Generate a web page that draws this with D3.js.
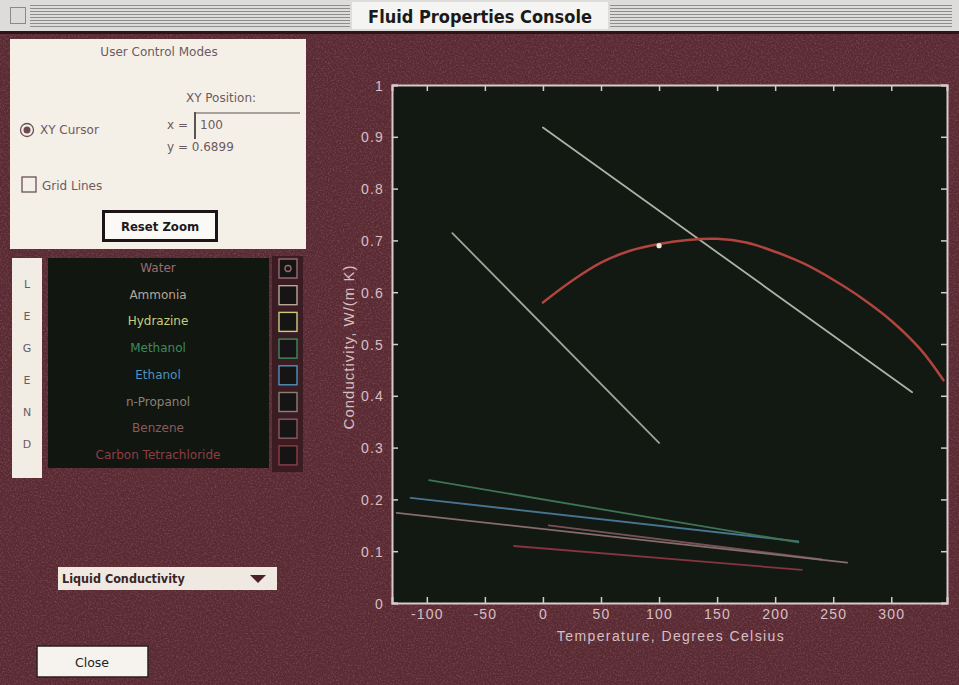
<!DOCTYPE html>
<html>
<head>
<meta charset="utf-8">
<script src="https://cdn.jsdelivr.net/npm/d3@7"></script>
<style>
  html, body { margin: 0; padding: 0; background: #5b2c34; }
  svg { display: block; }
</style>
</head>
<body>
<svg id="console" width="959" height="685"></svg>
<script>
// ---- fluids and their liquid thermal conductivity, W/(m K) vs temperature, °C ----
const fluids = ["Water", "Ammonia", "Hydrazine", "Methanol", "Ethanol", "n-Propanol", "Benzene", "Carbon Tetrachloride"];

const waterT = [0, 25, 50, 75, 100, 125, 150, 175, 200, 225, 250, 275, 300, 325, 345];
const waterK = [0.580, 0.622, 0.657, 0.680, 0.693, 0.701, 0.703, 0.696, 0.678, 0.655, 0.624, 0.588, 0.545, 0.490, 0.430];

const ammoniaT = [-78, 100];
const ammoniaK = [0.714, 0.309];

const hydrazineT = [0, 318];
const hydrazineK = [0.918, 0.407];

const methanolT = [-98, 220];
const methanolK = [0.237, 0.117];

const ethanolT = [-114, 220];
const ethanolK = [0.203, 0.119];

const propanolT = [-126, 262];
const propanolK = [0.174, 0.078];

const benzeneT = [5, 240];
const benzeneK = [0.150, 0.084];

const cclT = [-25, 223];
const cclK = [0.110, 0.064];

const seriesT = [waterT, ammoniaT, hydrazineT, methanolT, ethanolT, propanolT, benzeneT, cclT];
const seriesK = [waterK, ammoniaK, hydrazineK, methanolK, ethanolK, propanolK, benzeneK, cclK];

// cursor readout
const cursorT = 100;
const cursorK = 0.6899;

// tick labels
const xTicks = [-100, -50, 0, 50, 100, 150, 200, 250, 300];
const yTicks = [0, 0.1, 0.2, 0.3, 0.4, 0.5, 0.6, 0.7, 0.8, 0.9, 1];
const yTickLabels = ["0", "0.1", "0.2", "0.3", "0.4", "0.5", "0.6", "0.7", "0.8", "0.9", "1"];

// styling
const lineColors = ["#b0443e", "#9ea297", "#aab3a4", "#3c7454", "#477490", "#866c6c", "#765257", "#853440"];
const legendColors = ["#9a6c72", "#b5a796", "#c6cf7e", "#3e8a5c", "#4f92bb", "#8a8172", "#8c5a5c", "#8f3e46"];

const svg = d3.select("#console");
const W = 959, H = 685;
const defs = svg.append("defs");

// soft mottling for the window background
const grain = defs.append("filter").attr("id", "grain").attr("x", 0).attr("y", 0).attr("width", "100%").attr("height", "100%");
grain.append("feTurbulence").attr("type", "fractalNoise").attr("baseFrequency", 0.6).attr("numOctaves", 2).attr("seed", 7);
grain.append("feColorMatrix").attr("type", "matrix")
  .attr("values", "0 0 0 0 0.78  0 0 0 0 0.55  0 0 0 0 0.6  0.45 0 0 0 -0.2");

svg.append("rect").attr("width", W).attr("height", H).attr("fill", "#5a2a33");
svg.append("rect").attr("width", W).attr("height", H).attr("filter", "url(#grain)");

// ---- title bar ----
const title = svg.append("g").attr("shape-rendering", "crispEdges");
title.append("rect").attr("x", 0).attr("y", 0).attr("width", W).attr("height", 31).attr("fill", "#dedcda");
d3.range(5, 27, 3).forEach(yy => {
  title.append("rect").attr("x", 30).attr("y", yy).attr("width", 320).attr("height", 1).attr("fill", "#8e8c8c");
  title.append("rect").attr("x", 610).attr("y", yy).attr("width", 342).attr("height", 1).attr("fill", "#8e8c8c");
});
title.append("rect").attr("x", 10).attr("y", 7).attr("width", 15).attr("height", 16).attr("fill", "#dcdad8").attr("stroke", "#8a8888");
title.append("rect").attr("x", 352).attr("y", 2).attr("width", 256).attr("height", 27).attr("fill", "#f4f4f2");
svg.append("text").attr("x", 480).attr("y", 23).attr("text-anchor", "middle")
  .attr("font-family", "'DejaVu Sans Condensed', 'DejaVu Sans', sans-serif").attr("font-weight", "bold")
  .attr("font-size", 18).attr("fill", "#1a1a1a").text("Fluid Properties Console");
svg.append("rect").attr("x", 0).attr("y", 31).attr("width", W).attr("height", 3).attr("fill", "#2e1418");

const uiFont = "'DejaVu Sans', sans-serif";
const panelInk = "#6e5a5d";

// ---- control panel ----
const panel = svg.append("g");
panel.append("rect").attr("x", 10).attr("y", 39).attr("width", 296).attr("height", 210).attr("fill", "#f4f0e8");
panel.append("text").attr("x", 159).attr("y", 56).attr("text-anchor", "middle").attr("font-family", uiFont)
  .attr("font-size", 12).attr("fill", panelInk).text("User Control Modes");
panel.append("text").attr("x", 221).attr("y", 102).attr("text-anchor", "middle").attr("font-family", uiFont)
  .attr("font-size", 12).attr("fill", panelInk).text("XY Position:");
panel.append("circle").attr("cx", 27).attr("cy", 130).attr("r", 6.5).attr("fill", "#f4f0e8").attr("stroke", "#6a5055").attr("stroke-width", 1.3);
panel.append("circle").attr("cx", 27).attr("cy", 130).attr("r", 3.5).attr("fill", "#6a4a50");
panel.append("text").attr("x", 40).attr("y", 134).attr("font-family", uiFont).attr("font-size", 12).attr("fill", panelInk).text("XY Cursor");
panel.append("text").attr("x", 167).attr("y", 129).attr("font-family", uiFont).attr("font-size", 12).attr("fill", panelInk).text("x =");
panel.append("line").attr("x1", 195).attr("x2", 195).attr("y1", 112).attr("y2", 139).attr("stroke", "#2a2022").attr("stroke-width", 1.5);
panel.append("line").attr("x1", 195).attr("x2", 300).attr("y1", 113).attr("y2", 113).attr("stroke", "#5a5052").attr("stroke-width", 1.2);
panel.append("text").attr("x", 200).attr("y", 129).attr("font-family", uiFont).attr("font-size", 12).attr("fill", panelInk).text(String(cursorT));
panel.append("text").attr("x", 167).attr("y", 151).attr("font-family", uiFont).attr("font-size", 12).attr("fill", panelInk).text("y = " + cursorK);
panel.append("rect").attr("x", 22).attr("y", 177).attr("width", 14).attr("height", 15).attr("fill", "#f4f0e8").attr("stroke", "#6a5055").attr("stroke-width", 1.3);
panel.append("text").attr("x", 42).attr("y", 190).attr("font-family", uiFont).attr("font-size", 12).attr("fill", panelInk).text("Grid Lines");
panel.append("rect").attr("x", 102).attr("y", 210).attr("width", 116).attr("height", 32).attr("fill", "#1c1416");
panel.append("rect").attr("x", 105).attr("y", 213).attr("width", 110).attr("height", 26).attr("fill", "#fbf9f6");
panel.append("text").attr("x", 160).attr("y", 231).attr("text-anchor", "middle").attr("font-family", "'DejaVu Sans Condensed', 'DejaVu Sans', sans-serif")
  .attr("font-weight", "bold").attr("font-size", 13).attr("fill", "#1e1a1a").text("Reset Zoom");

// ---- legend ----
const legend = svg.append("g");
legend.append("rect").attr("x", 12).attr("y", 258).attr("width", 30).attr("height", 220).attr("fill", "#f2ede4");
"LEGEND".split("").forEach((ch, i) => {
  legend.append("text").attr("x", 27).attr("y", 288 + i * 32).attr("text-anchor", "middle").attr("font-family", uiFont)
    .attr("font-size", 11).attr("fill", panelInk).text(ch);
});
legend.append("rect").attr("x", 48).attr("y", 258).attr("width", 221).attr("height", 210).attr("fill", "#111611");
legend.append("rect").attr("x", 272).attr("y", 256).attr("width", 31).attr("height", 216).attr("fill", "#3a1c22");
const rowY = i => 268 + i * 26.7;
fluids.forEach((name, i) => {
  legend.append("text").attr("x", 158).attr("y", rowY(i) + 4).attr("text-anchor", "middle").attr("font-family", uiFont)
    .attr("font-size", 12).attr("fill", legendColors[i]).text(name);
  legend.append("rect").attr("x", 279).attr("y", rowY(i) - 9).attr("width", 18).attr("height", 19)
    .attr("fill", "#161414").attr("stroke", legendColors[i]).attr("stroke-width", 1.4);
});
legend.append("circle").attr("cx", 288).attr("cy", rowY(0) + 0.5).attr("r", 3).attr("fill", "none").attr("stroke", legendColors[0]).attr("stroke-width", 1.3);

// ---- property selector and close button ----
svg.append("rect").attr("x", 58).attr("y", 567).attr("width", 219).attr("height", 23).attr("fill", "#efe9e2");
svg.append("text").attr("x", 62).attr("y", 583).attr("font-family", "'DejaVu Sans Condensed', 'DejaVu Sans', sans-serif").attr("font-weight", "bold")
  .attr("font-size", 12.5).attr("fill", "#3a2528").text("Liquid Conductivity");
svg.append("path").attr("d", "M250,575 L266,575 L258,583 Z").attr("fill", "#4a2228");
svg.append("rect").attr("x", 37).attr("y", 646).attr("width", 111).attr("height", 31).attr("fill", "#f6f3ef").attr("stroke", "#2a1e20").attr("stroke-width", 1.5);
svg.append("text").attr("x", 92).attr("y", 667).attr("text-anchor", "middle").attr("font-family", uiFont)
  .attr("font-size", 12.5).attr("fill", "#222").text("Close");

// ---- plot ----
const plotL = 392, plotR = 947, plotT = 85, plotB = 603;
const x = d3.scaleLinear().domain([-130, 348]).range([plotL, plotR]);
const y = d3.scaleLinear().domain([0, 1]).range([plotB, plotT]);

svg.append("rect").attr("x", plotL).attr("y", plotT).attr("width", plotR - plotL).attr("height", plotB - plotT).attr("fill", "#121812");

const clip = defs.append("clipPath").attr("id", "plotclip");
clip.append("rect").attr("x", plotL).attr("y", plotT).attr("width", plotR - plotL).attr("height", plotB - plotT);

const line = d3.line().x(d => x(d[0])).y(d => y(d[1]));
const curve = d3.line().curve(d3.curveCatmullRom.alpha(0.5)).x(d => x(d[0])).y(d => y(d[1]));

const marks = svg.append("g").attr("clip-path", "url(#plotclip)");
// draw bottom-most series first so water sits on top
for (let i = seriesT.length - 1; i >= 0; i--) {
  const pts = seriesT[i].map((t, j) => [t, seriesK[i][j]]);
  marks.append("path").attr("d", (i === 0 ? curve : line)(pts)).attr("fill", "none")
    .attr("stroke", lineColors[i]).attr("stroke-width", i === 0 ? 2.5 : 1.8).attr("stroke-linecap", "round");
}
marks.append("circle").attr("cx", x(cursorT)).attr("cy", y(cursorK)).attr("r", 2.6).attr("fill", "#eceae2");

// axes: inward ticks on all four sides
const axisInk = "#d9c9cb";
const tickFont = "'Liberation Sans', Arial, sans-serif";

const gx = svg.append("g").attr("transform", `translate(0,${plotB})`)
  .call(d3.axisBottom(x).tickValues(xTicks).tickSize(-6).tickPadding(6).tickFormat(d => String(d)));
const gy = svg.append("g").attr("transform", `translate(${plotL},0)`)
  .call(d3.axisLeft(y).tickValues(yTicks).tickSize(-6).tickPadding(8).tickFormat((d, i) => yTickLabels[i]));
const gt = svg.append("g").attr("transform", `translate(0,${plotT})`)
  .call(d3.axisTop(x).tickValues(xTicks).tickSize(-6).tickFormat(""));
const gr = svg.append("g").attr("transform", `translate(${plotR},0)`)
  .call(d3.axisRight(y).tickValues(yTicks).tickSize(-6).tickFormat(""));

[gx, gy, gt, gr].forEach(g => {
  g.select(".domain").attr("stroke", axisInk).attr("stroke-width", 2);
  g.selectAll(".tick line").attr("stroke", axisInk).attr("stroke-width", 1.5);
  g.selectAll(".tick text").attr("fill", "#d6bfc3").attr("font-family", tickFont).attr("font-size", 14).attr("letter-spacing", 1.2);
});
gy.selectAll(".tick text").attr("dy", "0.36em");

svg.append("text").attr("x", 671).attr("y", 641).attr("text-anchor", "middle").attr("font-family", tickFont)
  .attr("font-size", 14).attr("letter-spacing", 1.4).attr("fill", "#d6bfc3").text("Temperature, Degrees Celsius");
svg.append("text").attr("transform", "translate(354,347) rotate(-90)").attr("text-anchor", "middle").attr("font-family", tickFont)
  .attr("font-size", 15).attr("letter-spacing", 1).attr("fill", "#d6bfc3").text("Conductivity, W/(m K)");
</script>
</body>
</html>
